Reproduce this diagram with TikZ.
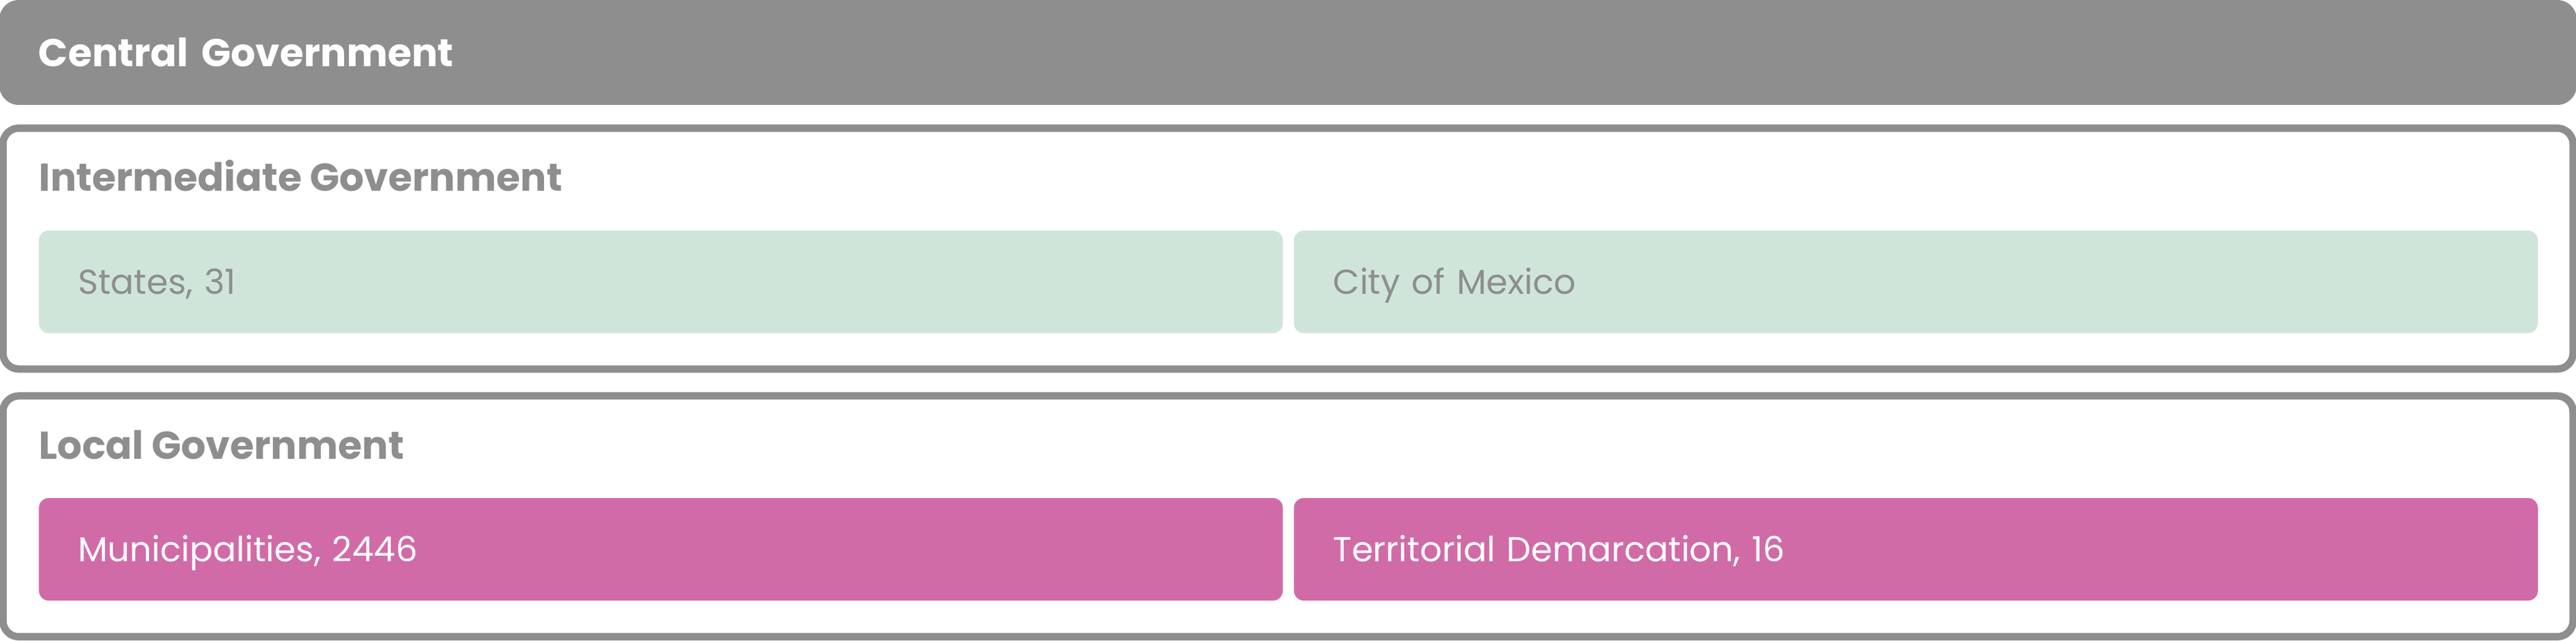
\documentclass[tikz,border=0pt]{standalone}
\usepackage{fontspec}
\setmainfont{Poppins}
\usetikzlibrary{positioning}
\definecolor{govgray}{HTML}{8E8E8E}
\definecolor{stategreen}{HTML}{CFE5DA}
\definecolor{localpink}{HTML}{D16BA7}
\tikzset{
	bar/.style={fill=govgray, rounded corners=0.32cm, text=white, font=\fontsize{18}{22}\selectfont\bfseries,
		text width=40.72cm, inner xsep=0.64cm, inner ysep=0pt, minimum height=1.71cm, align=left, outer sep=0pt,
		text height=0.45cm, text depth=0pt},
	frame/.style={draw=govgray, line width=0.12cm, rounded corners=0.26cm, minimum width=41.88cm, minimum height=3.925cm, inner sep=0pt, outer sep=0pt},
	head/.style={text=govgray, font=\fontsize{18}{22}\selectfont\bfseries, inner sep=0pt, anchor=base west},
	cell/.style={rounded corners=0.16cm, text width=18.99cm, inner xsep=0.64cm, inner ysep=0pt, minimum height=1.67cm,
		align=left, outer sep=0pt, font=\fontsize{16}{20}\selectfont, text height=0.4cm, text depth=0pt},
	green/.style={cell, fill=stategreen, text=govgray},
	pink/.style={cell, fill=localpink, text=white}
}
\begin{document}
\begin{tikzpicture}[x=0.01cm, y=0.01cm, line join=round]
	\def\W{4200} \def\H{1044}
	\useasboundingbox (0,0) rectangle (\W,\H);
	%\draw[color=gray!50,dashed] (0,0) grid[step=100] (\W,\H);
	\node[bar] (central) at (2100,958.5) {Central Government};
	% intermediate level
	\node[frame] (inter) at (2100,638.75) {};
	\node[head] (intertitle) at ([xshift=0.58cm,yshift=-1.03cm]inter.north west) {Intermediate Government};
	\node[green] (states) at (1077.5,584.5) {States, 31};
	\node[green, right=0.18cm of states] (cdmx) {City of Mexico};
	% local level
	\node[frame] (local) at (2100,202.25) {};
	\node[head] (localtitle) at ([xshift=0.58cm,yshift=-1.03cm]local.north west) {Local Government};
	\node[pink] (munis) at (1077.5,148.5) {Municipalities, 2446};
	\node[pink, right=0.18cm of munis] (demarc) {Territorial Demarcation, 16};
\end{tikzpicture}
\end{document}
